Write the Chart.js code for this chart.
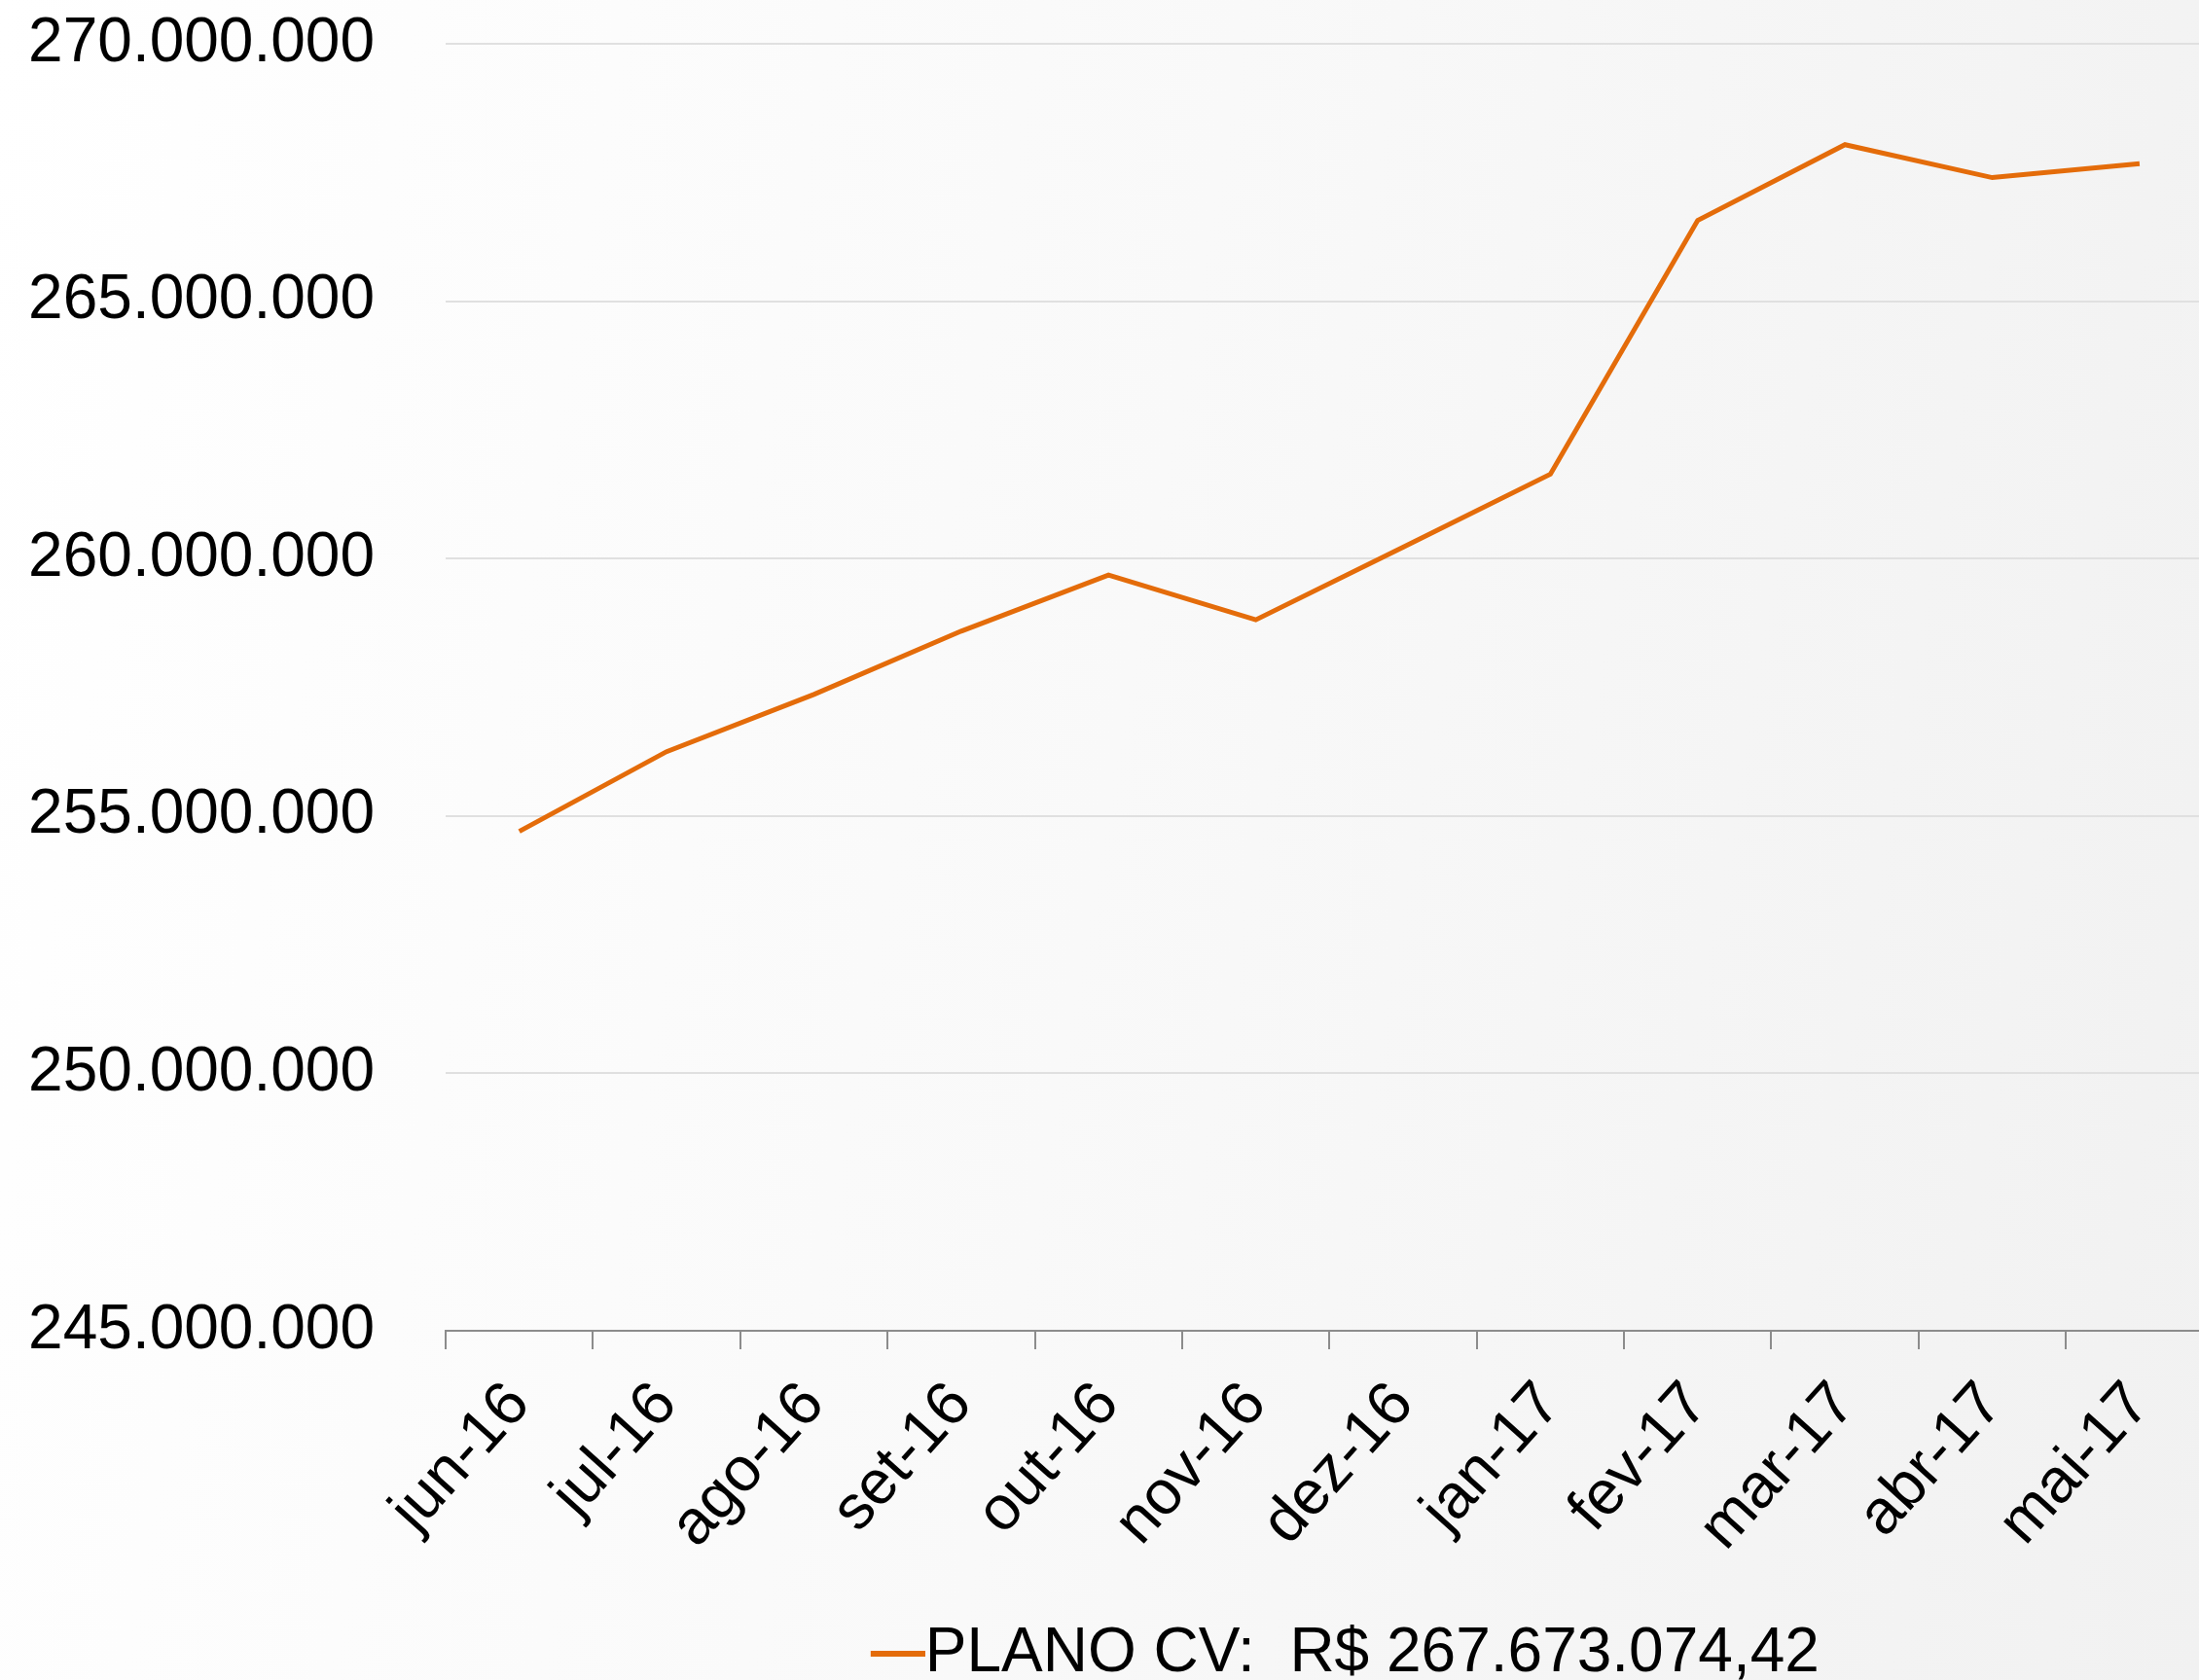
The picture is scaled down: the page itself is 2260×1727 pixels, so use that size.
<!DOCTYPE html>
<html>
<head>
<meta charset="utf-8">
<script src="https://cdn.jsdelivr.net/npm/chart.js@4.4.1/dist/chart.umd.min.js"></script>
<style>
    html, body {
        margin: 0;
        padding: 0;
        width: 2260px;
        height: 1727px;
        overflow: hidden;
    }
    body {
        background: linear-gradient(100deg, #ffffff 0%, #f9f9f9 50%, #f1f1f1 100%);
    }
    #wrap {
        width: 2276px;
        height: 1727px;
    }
</style>
</head>
<body>
<div id="wrap"><canvas id="plano-chart" width="2276" height="1727"></canvas></div>
<script>
// Monthly categories (x axis)
const months = ['jun-16', 'jul-16', 'ago-16', 'set-16', 'out-16', 'nov-16',
                'dez-16', 'jan-17', 'fev-17', 'mar-17', 'abr-17', 'mai-17'];

// PLANO CV balance, R$ (last one from the legend)
const planoCV = [254700000, 256250000, 257360000, 258590000, 259680000, 258810000,
                 260220000, 261640000, 266570000, 268040000, 267400000, 267673074.42];

const legendLabel = 'PLANO CV:  R$ 267.673.074,42';

// Y axis range and step
const yMin = 245000000;
const yMax = 270000000;
const yStep = 5000000;

const FONT = "'Liberation Sans', Arial, sans-serif";
const ORANGE = '#E46C0A';

// 270000000 -> 270.000.000
function formatBR(value) {
    return Math.round(value).toString().replace(/\B(?=(\d{3})+(?!\d))/g, '.');
}

// Legend marker: short orange line that sits right against the label text
function legendLine() {
    const c = document.createElement('canvas');
    c.width = 120;
    c.height = 6;
    const g = c.getContext('2d');
    g.fillStyle = ORANGE;
    g.fillRect(64, 0, 56, 6);
    return c;
}

function initChart() {
    const ctx = document.getElementById('plano-chart').getContext('2d');
    new Chart(ctx, {
        type: 'line',
        data: {
            labels: months,
            datasets: [{
                label: legendLabel,
                data: planoCV,
                borderColor: ORANGE,
                backgroundColor: ORANGE,
                borderWidth: 5,
                pointRadius: 0,
                tension: 0,
                fill: false
            }]
        },
        options: {
            responsive: false,
            animation: false,
            devicePixelRatio: 1,
            layout: {
                padding: { top: 45, left: 0, right: 0, bottom: -15 }
            },
            plugins: {
                legend: {
                    position: 'bottom',
                    fullSize: false,
                    labels: {
                        color: '#000',
                        font: { family: FONT, size: 64 },
                        usePointStyle: true,
                        pointStyle: legendLine(),
                        pointStyleWidth: 56,
                        boxHeight: 6,
                        padding: 10
                    }
                },
                tooltip: { enabled: false }
            },
            scales: {
                x: {
                    offset: true,
                    grid: {
                        offset: true,
                        drawOnChartArea: false,
                        drawTicks: true,
                        tickLength: 19,
                        color: '#8c8c8c',
                        lineWidth: 2
                    },
                    border: { color: '#8c8c8c', width: 2 },
                    ticks: {
                        autoSkip: false,
                        minRotation: 48,
                        maxRotation: 48,
                        padding: 20,
                        color: '#000',
                        font: { family: FONT, size: 64 }
                    },
                    afterFit: (scale) => { scale.height = 290; }
                },
                y: {
                    min: yMin,
                    max: yMax,
                    grid: {
                        color: '#e0e0e0',
                        lineWidth: 2,
                        drawTicks: false
                    },
                    border: { display: false },
                    ticks: {
                        stepSize: yStep,
                        padding: 73,
                        color: '#000',
                        font: { family: FONT, size: 64 },
                        callback: (value) => formatBR(value)
                    },
                    afterFit: (scale) => {
                        scale.width = 458;
                        // the big tick padding should only push labels left, not shrink the plot
                        scale.paddingTop = 0;
                        scale.paddingBottom = 0;
                    }
                }
            }
        }
    });
}

window.addEventListener('DOMContentLoaded', initChart);
</script>
</body>
</html>
